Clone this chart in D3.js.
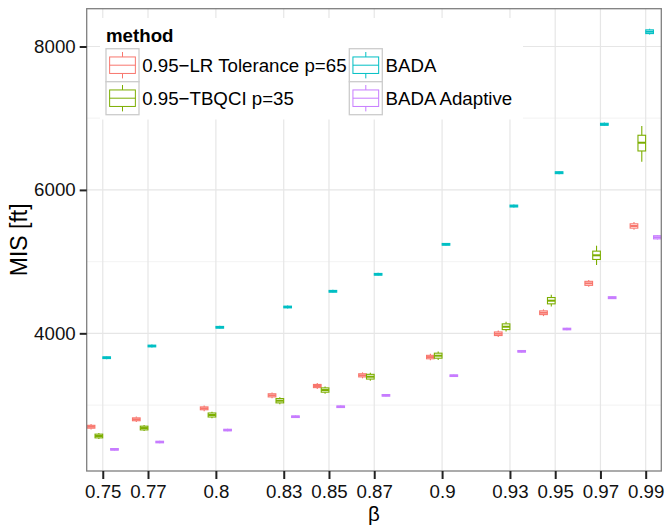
<!DOCTYPE html>
<html><head><meta charset="utf-8">
<script src="https://cdn.jsdelivr.net/npm/d3@7"></script>
<style>
body{margin:0;background:#fff}
svg{display:block}
text{font-family:"Liberation Sans",Arial,Helvetica,sans-serif}
</style>
</head><body>
<svg id="c" width="665" height="526"></svg>
<script>
// ---------------- data ----------------
const betas = [0.75, 0.77, 0.8, 0.83, 0.85, 0.87, 0.9, 0.93, 0.95, 0.97, 0.99];
const xTickLabels = ["0.75","0.77","0.8","0.83","0.85","0.87","0.9","0.93","0.95","0.97","0.99"];
const methods = ["0.95\u2212LR Tolerance p=65", "0.95\u2212TBQCI p=35", "BADA", "BADA Adaptive"];
const methodColors = ["#F8766D", "#7CAE00", "#00BFC4", "#C77CFF"];
// five-number summaries per beta: [lower whisker, q1, median, q3, upper whisker]
const lrTolerance = [
  [2659,2677,2697,2717,2735],[2763,2781,2801,2821,2839],[2914,2934,2954,2974,2994],
  [3095,3113,3135,3157,3175],[3223,3243,3265,3287,3307],[3372,3392,3414,3436,3456],
  [3624,3645,3669,3693,3714],[3949,3969,3994,4019,4039],[4240,4261,4287,4313,4334],
  [4650,4669,4697,4725,4744],[5443,5467,5497,5527,5551]];
const tbqci = [
  [2526,2542,2568,2594,2610],[2637,2653,2679,2705,2721],[2816,2833,2861,2889,2906],
  [3012,3030,3060,3090,3108],[3159,3179,3209,3239,3259],[3340,3362,3395,3428,3450],
  [3628,3653,3688,3723,3748],[4024,4052,4092,4132,4160],[4373,4411,4455,4499,4537],
  [4953,5030,5088,5146,5222],[6393,6543,6658,6762,6891]];
const bada = [
  [3640,3648,3660,3672,3680],[3803,3811,3823,3835,3843],[4064,4072,4084,4096,4104],
  [4347,4355,4367,4379,4387],[4566,4574,4586,4598,4606],[4803,4811,4823,4835,4843],
  [5221,5229,5241,5253,5261],[5753,5762,5775,5788,5797],[6218,6227,6240,6253,6262],
  [6891,6901,6915,6929,6939],[8166,8180,8206,8232,8246]];
const badaAdaptive = [
  [2364,2371,2382,2393,2400],[2466,2473,2484,2495,2502],[2633,2640,2651,2662,2669],
  [2819,2826,2837,2848,2855],[2958,2965,2976,2987,2994],[3117,3124,3135,3146,3153],
  [3391,3398,3409,3420,3427],[3731,3738,3749,3760,3767],[4042,4049,4060,4071,4078],
  [4477,4484,4497,4510,4517],[5307,5317,5339,5361,5371]];
const yTicks = [4000, 6000, 8000];
const yMinorTicks = [3000, 5000, 7000];
const xTitle = "\u03B2";
const yTitle = "MIS [ft]";
const legendTitle = "method";

// ---------------- layout ----------------
const seriesAll = [lrTolerance, tbqci, bada, badaAdaptive];
const P = {l: 86.7, r: 661.3, t: 8.7, b: 471};
const FS = 18.7;
const svg = d3.select("#c");
const x = d3.scaleLinear().domain([0.7429, 0.9969]).range([P.l, P.r]);
const y = d3.scaleLinear().domain([2080, 8527]).range([P.b, P.t]);
const dodge = 0.0138;               // total dodge width in beta units
const slot = dodge / methods.length;

svg.append("rect").attr("x", P.l).attr("y", P.t).attr("width", P.r - P.l).attr("height", P.b - P.t).attr("fill", "#fff");

const grid = svg.append("g");
grid.selectAll(".ymin").data(yMinorTicks).enter().append("line")
  .attr("x1", P.l).attr("x2", P.r).attr("y1", d => y(d)).attr("y2", d => y(d))
  .attr("stroke", "#F5F5F5").attr("stroke-width", 1.2);
grid.selectAll(".ymaj").data(yTicks).enter().append("line")
  .attr("x1", P.l).attr("x2", P.r).attr("y1", d => y(d)).attr("y2", d => y(d))
  .attr("stroke", "#E6E6E6").attr("stroke-width", 1.2);
grid.selectAll(".xmaj").data(betas).enter().append("line")
  .attr("y1", P.t).attr("y2", P.b).attr("x1", d => x(d)).attr("x2", d => x(d))
  .attr("stroke", "#E6E6E6").attr("stroke-width", 1.2);

// ---------------- boxes ----------------
const boxes = svg.append("g");
seriesAll.forEach((series, mi) => {
  const col = methodColors[mi];
  const g = boxes.append("g");
  series.forEach((s, bi) => {
    const cx = betas[bi] + (mi - (methods.length - 1) / 2) * slot;
    const xl = x(cx - slot / 2 * 0.98), xr = x(cx + slot / 2 * 0.98), xc = x(cx);
    const [lo, q1, md, q3, hi] = s;
    g.append("line").attr("x1", xc).attr("x2", xc).attr("y1", y(hi)).attr("y2", y(q3))
      .attr("stroke", col).attr("stroke-width", 1.1);
    g.append("line").attr("x1", xc).attr("x2", xc).attr("y1", y(q1)).attr("y2", y(lo))
      .attr("stroke", col).attr("stroke-width", 1.1);
    g.append("rect").attr("x", xl).attr("width", xr - xl)
      .attr("y", y(q3)).attr("height", y(q1) - y(q3))
      .attr("fill", "#fff").attr("stroke", col).attr("stroke-width", 1.1);
    g.append("line").attr("x1", xl).attr("x2", xr).attr("y1", y(md)).attr("y2", y(md))
      .attr("stroke", col).attr("stroke-width", 2);
  });
});

svg.append("rect").attr("x", P.l).attr("y", P.t).attr("width", P.r - P.l).attr("height", P.b - P.t)
  .attr("fill", "none").attr("stroke", "#7F7F7F").attr("stroke-width", 1.3);

// ---------------- axes ----------------
const xAxis = d3.axisBottom(x).tickValues(betas).tickSize(8).tickPadding(5.5)
  .tickFormat((d, i) => xTickLabels[i]);
const gx = svg.append("g").attr("transform", `translate(0,${P.b})`).call(xAxis);
gx.select(".domain").remove();
gx.selectAll(".tick line").attr("stroke", "#222").attr("stroke-width", 2);
gx.selectAll(".tick text").attr("fill", "#111").style("font-size", FS + "px")
  .style("font-family", '"Liberation Sans",Arial,sans-serif');

const yAxis = d3.axisLeft(y).tickValues(yTicks).tickSize(7).tickPadding(4)
  .tickFormat(d => String(d));
const gy = svg.append("g").attr("transform", `translate(${P.l},0)`).call(yAxis);
gy.select(".domain").remove();
gy.selectAll(".tick line").attr("stroke", "#222").attr("stroke-width", 2);
gy.selectAll(".tick text").attr("fill", "#111").style("font-size", FS + "px")
  .style("font-family", '"Liberation Sans",Arial,sans-serif');

svg.append("text").attr("x", (P.l + P.r) / 2).attr("y", 521).attr("text-anchor", "middle")
  .style("font-size", "20.5px").attr("fill", "#000").text(xTitle);
svg.append("text").attr("transform", `translate(27,${(P.t + P.b) / 2}) rotate(-90)`)
  .attr("text-anchor", "middle").style("font-size", "23px").attr("fill", "#000").text(yTitle);

// ---------------- legend ----------------
const L = {x: 100, y: 18, w: 423, h: 101.5, keyX: 106, keyY: 48.7, key: 33, col2: 349.3};
const lg = svg.append("g");
lg.append("rect").attr("x", L.x).attr("y", L.y).attr("width", L.w).attr("height", L.h).attr("fill", "#fff");
lg.append("text").attr("x", L.keyX).attr("y", 41.7).style("font-size", FS + "px").style("font-weight", "bold")
  .attr("fill", "#000").text(legendTitle);
methods.forEach((m, i) => {
  const col = Math.floor(i / 2), row = i % 2;
  const kx = col === 0 ? L.keyX : L.col2;
  const ky = L.keyY + row * L.key;
  const k = L.key, c = methodColors[i];
  const kg = lg.append("g");
  kg.append("rect").attr("x", kx).attr("y", ky).attr("width", k).attr("height", k)
    .attr("fill", "#fff").attr("stroke", "#CCCCCC").attr("stroke-width", 1.3);
  const cx = kx + k / 2;
  kg.append("line").attr("x1", cx).attr("x2", cx).attr("y1", ky + 0.1 * k).attr("y2", ky + 0.25 * k)
    .attr("stroke", c).attr("stroke-width", 1);
  kg.append("line").attr("x1", cx).attr("x2", cx).attr("y1", ky + 0.75 * k).attr("y2", ky + 0.9 * k)
    .attr("stroke", c).attr("stroke-width", 1);
  kg.append("rect").attr("x", kx + 0.11 * k).attr("y", ky + 0.25 * k).attr("width", 0.78 * k).attr("height", 0.5 * k)
    .attr("fill", "#fff").attr("stroke", c).attr("stroke-width", 1);
  kg.append("line").attr("x1", kx + 0.11 * k).attr("x2", kx + 0.89 * k).attr("y1", ky + 0.5 * k).attr("y2", ky + 0.5 * k)
    .attr("stroke", c).attr("stroke-width", 1);
  kg.append("text").attr("x", kx + k + 3.2).attr("y", ky + k / 2 + 6.6)
    .style("font-size", FS + "px").attr("fill", "#000").text(m);
});
</script>
</body></html>
